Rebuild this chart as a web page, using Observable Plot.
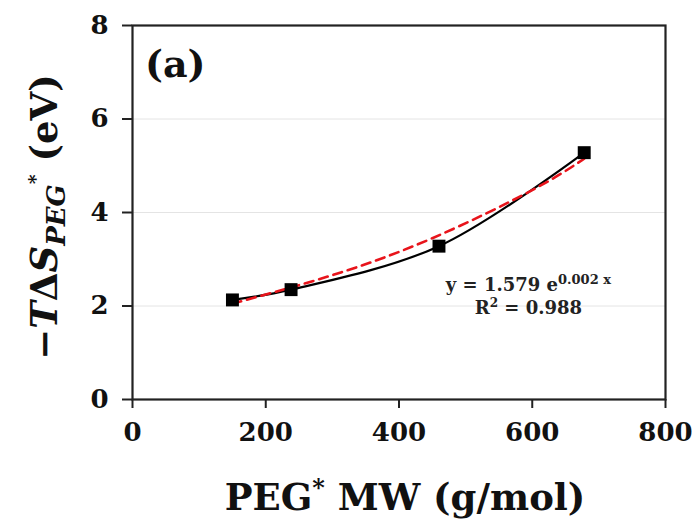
<!DOCTYPE html>
<html>
<head>
<meta charset="utf-8">
<script src="https://cdn.jsdelivr.net/npm/d3@7"></script>
<script src="https://cdn.jsdelivr.net/npm/@observablehq/plot@0.6"></script>
<style>
  body { margin: 0; background: #fff; }
  #chart svg { display: block; }
</style>
</head>
<body>
<div id="chart"></div>
<script>
// Data
const mw = [150, 238, 460, 678];
const tds = [2.13, 2.35, 3.28, 5.28];
// Exponential trendline (dashed red)
const fitX = [150, 300, 450, 600, 678];
const fitY = [2.05, 2.66, 3.45, 4.48, 5.15];
const xTicks = [0, 200, 400, 600, 800];
const yTicks = [0, 2, 4, 6, 8];
const gridYs = [2, 4, 6];

const points = mw.map((x, i) => ({x, y: tds[i]}));
const fit = fitX.map((x, i) => ({x, y: fitY[i]}));

const serif = "'DejaVu Serif', serif";

const plot = Plot.plot({
  width: 698,
  height: 524,
  marginLeft: 132,
  marginRight: 33,
  marginTop: 25,
  marginBottom: 125,
  style: {fontFamily: serif, fontSize: "26px", fontWeight: "bold", color: "#111", background: "#fff"},
  x: {domain: [0, 800], label: null},
  y: {domain: [0, 8], label: null},
  marks: [
    Plot.gridY(gridYs, {stroke: "#e4e4e4", strokeOpacity: 1, strokeWidth: 1}),
    Plot.axisY(yTicks, {tickSize: 10, tickPadding: 14, strokeWidth: 2, stroke: "#222", label: null}),
    Plot.axisX(xTicks, {tickSize: 9, tickPadding: 14, strokeWidth: 2, stroke: "#222", label: null}),
    Plot.frame({stroke: "#222", strokeWidth: 2.2}),
    Plot.line(points, {x: "x", y: "y", curve: "catmull-rom", stroke: "#000", strokeWidth: 2.2}),
    Plot.line(fit, {x: "x", y: "y", curve: "natural", stroke: "#e8141b", strokeWidth: 2.6, strokeDasharray: "9,6"}),
    Plot.dot(points, {x: "x", y: "y", symbol: "square", r: 7.3, fill: "#000", stroke: "none"})
  ]
});
document.getElementById("chart").appendChild(plot);

const svg = d3.select(plot);
const sx = plot.scale("x"), sy = plot.scale("y");

// panel label
svg.append("text")
  .attr("x", 145).attr("y", 77)
  .attr("text-anchor", "start")
  .attr("font-family", serif).attr("font-weight", "bold").attr("font-size", 38)
  .attr("fill", "#111")
  .text("(a)");

// equation annotation
const eq = svg.append("text")
  .attr("x", sx.apply(595)).attr("y", sy.apply(2.31))
  .attr("text-anchor", "middle")
  .attr("font-family", serif).attr("font-weight", "bold").attr("font-size", 18)
  .attr("fill", "#222");
eq.append("tspan").text("y = 1.579 e");
eq.append("tspan").attr("font-size", 13).attr("dy", -7).text("0.002 x");

const r2 = svg.append("text")
  .attr("x", sx.apply(595)).attr("y", sy.apply(1.82))
  .attr("text-anchor", "middle")
  .attr("font-family", serif).attr("font-weight", "bold").attr("font-size", 18)
  .attr("fill", "#222");
r2.append("tspan").text("R");
r2.append("tspan").attr("font-size", 12).attr("dy", -7).text("2");
r2.append("tspan").attr("dy", 7).text(" = 0.988");

// x axis label
const xl = svg.append("text")
  .attr("x", 405).attr("y", 510)
  .attr("text-anchor", "middle")
  .attr("font-family", serif).attr("font-weight", "bold").attr("font-size", 37)
  .attr("fill", "#111");
xl.append("tspan").text("PEG");
xl.append("tspan").attr("font-size", 24).attr("dy", -14).text("*");
xl.append("tspan").attr("dy", 14).text(" MW (g/mol)");

// y axis label
const yl = svg.append("text")
  .attr("transform", "translate(57,217) rotate(-90)")
  .attr("text-anchor", "middle")
  .attr("font-family", serif).attr("font-weight", "bold").attr("font-size", 37)
  .attr("fill", "#111");
yl.append("tspan").text("\u2212");
yl.append("tspan").attr("font-style", "italic").text("T");
yl.append("tspan").text("\u0394");
yl.append("tspan").attr("font-style", "italic").text("S");
yl.append("tspan").attr("font-style", "italic").attr("font-size", 26).attr("dy", 8).text("PEG");
yl.append("tspan").attr("font-size", 19).attr("dy", -23).text("*");
yl.append("tspan").attr("dy", 15).text(" (eV)");
</script>
</body>
</html>
